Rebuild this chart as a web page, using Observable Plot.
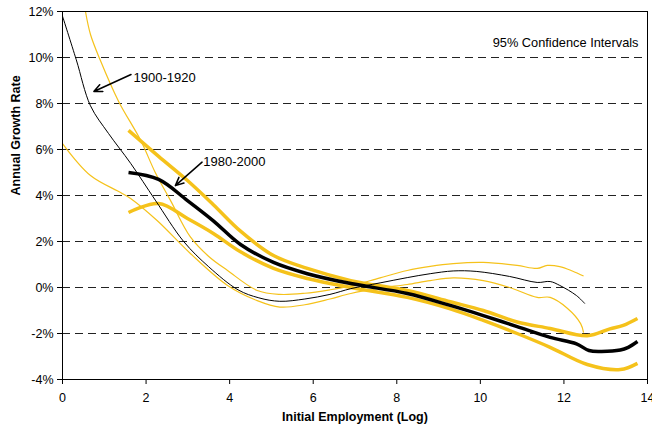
<!DOCTYPE html>
<html><head><meta charset="utf-8">
<script src="https://cdn.jsdelivr.net/npm/d3@7"></script>
<script src="https://cdn.jsdelivr.net/npm/@observablehq/plot@0.6"></script>
<style>body{margin:0;background:#fff;}</style>
</head><body><div id="chart"></div>
<script>
const xTicks = [0, 2, 4, 6, 8, 10, 12, 14];
const yTicks = [-4, -2, 0, 2, 4, 6, 8, 10, 12];
const gridLines = [-2, 0, 2, 4, 6, 8, 10];

// 1900-1920 estimate and 95% CI (thin lines)
const est1900 = [[0,11.8],[0.33,9.9],[0.67,7.9],[1.1,6.7],[1.63,5.4],[2.22,3.8],[2.9,2.0],[3.5,0.9],[4.2,-0.1],[4.7,-0.45],[5.2,-0.6],[5.8,-0.5],[6.4,-0.3],[6.9,-0.05],[7.6,0.2],[8.25,0.43],[8.8,0.6],[9.35,0.72],[9.9,0.7],[10.7,0.48],[11.36,0.22],[11.67,0.26],[11.9,0.09],[12.3,-0.35],[12.5,-0.7]];
const upper1900 = [[0.55,12.0],[0.67,11.0],[0.9,9.9],[1.34,8.1],[1.87,6.4],[2.22,5.0],[2.58,3.8],[3.06,2.2],[3.5,1.35],[3.95,0.74],[4.66,-0.13],[5.2,-0.3],[5.8,-0.25],[6.4,-0.1],[6.96,0.09],[7.6,0.42],[8.25,0.74],[8.8,0.92],[9.35,1.04],[10.07,1.09],[10.88,0.96],[11.36,0.83],[11.6,0.96],[11.9,0.91],[12.2,0.72],[12.47,0.5]];
const lower1900 = [[0,6.26],[0.67,4.87],[1.39,4.13],[1.63,3.87],[2.27,2.9],[3.06,1.48],[3.95,0.09],[4.66,-0.57],[5.2,-0.85],[5.8,-0.75],[6.4,-0.5],[6.9,-0.26],[7.6,-0.03],[8.25,0.13],[8.8,0.3],[9.35,0.42],[10.07,0.3],[10.7,0.0],[11.36,-0.43],[11.67,-0.43],[12.08,-0.9],[12.4,-1.57],[12.47,-1.96]];

// 1980-2000 estimate and 95% CI (thick lines)
const est1980 = [[1.58,5.0],[2.3,4.7],[2.99,3.78],[3.61,2.9],[4.26,1.87],[5.05,1.09],[5.86,0.6],[6.9,0.17],[8.25,-0.26],[9.28,-0.78],[10.07,-1.22],[10.88,-1.7],[11.67,-2.17],[12.3,-2.45],[12.6,-2.74],[12.87,-2.78],[13.35,-2.72],[13.54,-2.6],[13.76,-2.35]];
const upper1980 = [[1.58,6.83],[2.3,5.7],[2.99,4.65],[3.61,3.6],[4.26,2.45],[5.05,1.39],[5.86,0.83],[6.9,0.3],[8.25,-0.13],[9.28,-0.62],[10.07,-1.0],[10.88,-1.5],[11.67,-1.78],[12.56,-2.1],[13.1,-1.8],[13.42,-1.65],[13.76,-1.35]];
const lower1980 = [[1.58,3.26],[2.3,3.65],[2.99,3.0],[3.61,2.35],[4.26,1.55],[5.05,0.83],[5.86,0.39],[6.9,0.0],[8.25,-0.43],[9.28,-0.93],[10.07,-1.43],[10.88,-2.0],[11.67,-2.6],[12.56,-3.35],[13.35,-3.57],[13.76,-3.3]];

// annotations: [label, textX, textY, arrowFromX, arrowFromY, arrowToX, arrowToY]
const annotations = [
  ["1900-1920", 1.70, 9.13, 1.64, 9.26, 0.75, 8.52],
  ["1980-2000", 3.37, 5.45, 3.34, 5.45, 2.70, 4.43]
];
const ciNote = ["95% Confidence Intervals"];

const gold = "#F5C21B";
const lineOpts = (stroke, w) => ({x: d => d[0], y: d => d[1], stroke, strokeWidth: w, curve: "catmull-rom", clip: true, strokeLinejoin: "round", strokeLinecap: "butt"});

const chart = Plot.plot({
  width: 652, height: 434,
  marginLeft: 62, marginRight: 5, marginTop: 11, marginBottom: 55,
  style: {fontFamily: "'Liberation Sans', Arial, sans-serif", fontSize: "12px", background: "#fff", color: "#000", overflow: "visible"},
  x: {domain: [0, 14]},
  y: {domain: [-4, 12]},
  marks: [
    Plot.ruleY(gridLines, {stroke: "#222", strokeDasharray: "8,5", strokeWidth: 1}),
    Plot.line(upper1980, lineOpts(gold, 3.5)),
    Plot.line(lower1980, lineOpts(gold, 3.5)),
    Plot.line(upper1900, lineOpts(gold, 1.2)),
    Plot.line(lower1900, lineOpts(gold, 1.2)),
    Plot.line(est1900, lineOpts("#000", 1)),
    Plot.line(est1980, lineOpts("#000", 3.5)),
    Plot.frame({stroke: "#000", strokeWidth: 1}),
    Plot.axisX(xTicks, {tickSize: 5, tickPadding: 9, label: null, fontSize: 12.5}),
    Plot.axisY(yTicks, {tickSize: 5, tickPadding: 4, tickFormat: d => d + "%", label: null, fontSize: 12.5}),
    Plot.arrow(annotations, {x1: d => d[3], y1: d => d[4], x2: d => d[5], y2: d => d[6], stroke: "#000", strokeWidth: 1.5, headLength: 9, headAngle: 50}),
    Plot.text(annotations, {x: d => d[1], y: d => d[2], text: d => d[0], textAnchor: "start", fontSize: 13}),
    Plot.text(ciNote, {text: d => d, frameAnchor: "top-right", dx: -9, dy: 26, fontSize: 12.8}),
    Plot.text(["Initial Employment (Log)"], {text: d => d, frameAnchor: "bottom", dy: 41, fontWeight: "bold", fontSize: 12.5}),
    Plot.text(["Annual Growth Rate"], {text: d => d, frameAnchor: "left", dx: -47, rotate: -90, fontWeight: "bold", fontSize: 12.5})
  ]
});
document.getElementById("chart").appendChild(chart);
</script>
</body></html>
